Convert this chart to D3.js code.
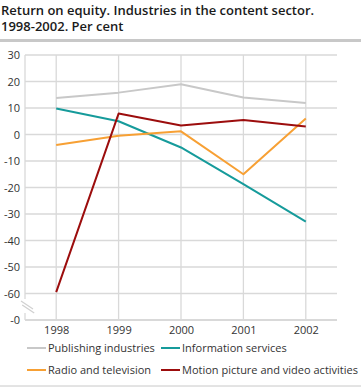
<!DOCTYPE html>
<html><head><meta charset="utf-8">
<script src="https://cdn.jsdelivr.net/npm/d3@7"></script>
<style>body{margin:0;background:#fff;} svg{display:block;font-family:"Open Sans",sans-serif;}</style>
</head><body><svg id="c" width="361" height="387"></svg>
<script>
const years = ["1998","1999","2000","2001","2002"];
const publishing = [13.8, 15.8, 19.0, 14.0, 11.9];
const information = [9.8, 5.0, -4.9, -18.7, -32.9];
const radio = [-4.0, -0.5, 1.2, -15.0, 6.0];
const motion = [-59.5, 7.9, 3.4, 5.5, 3.0];
const yTicks = [30, 20, 10, 0, -10, -20, -30, -40, -50, -60, -70];
const yTickLabels = ["30","20","10","0","-10","-20","-30","-40","-50","-60","-0"];
const seriesNames = ["Publishing industries","Information services","Radio and television","Motion picture and video activities"];
const colors = ["#c8c8c8","#169b9b","#f7a034","#9c0d0d"];
const seriesData = [publishing, information, radio, motion];

const svg = d3.select("#c");
const L = 25, R = 337, T = 55, B = 320;
const x = d3.scalePoint().domain(years).range([L, R]).padding(0.5);
const y = d3.scaleLinear().domain([-70, 30]).range([B, T]);

// title
svg.append("text").attr("x",1).attr("y",14.5).attr("font-size",13).attr("font-weight",600).attr("fill","#1a1a1a").text("Return on equity. Industries in the content sector.");
svg.append("text").attr("x",1).attr("y",31).attr("font-size",13).attr("font-weight",600).attr("fill","#1a1a1a").text("1998-2002. Per cent");
svg.append("line").attr("x1",0).attr("x2",361).attr("y1",40.5).attr("y2",40.5).attr("stroke","#c8c8c8").attr("stroke-width",3);
svg.append("line").attr("x1",0).attr("x2",361).attr("y1",386).attr("y2",386).attr("stroke","#c8c8c8").attr("stroke-width",1);

// grid
const g = svg.append("g");
g.selectAll(".hg").data(yTicks).join("line")
  .attr("x1",L).attr("x2",R).attr("y1",d=>y(d)).attr("y2",d=>y(d))
  .attr("stroke","#d9d9d9").attr("stroke-width",d=>d===-70?2:1.3);
g.selectAll(".vg").data(years).join("line")
  .attr("x1",d=>x(d)).attr("x2",d=>x(d)).attr("y1",T).attr("y2",B)
  .attr("stroke","#d9d9d9").attr("stroke-width",1.3);
g.append("line").attr("x1",L).attr("x2",L).attr("y1",T).attr("y2",B).attr("stroke","#d9d9d9").attr("stroke-width",1.3);

// y axis labels
const yAxis = d3.axisLeft(y).tickValues(yTicks).tickFormat((d,i)=>yTickLabels[i]).tickSize(0).tickPadding(5);
const ya = svg.append("g").attr("transform",`translate(${L},0)`).call(yAxis);
ya.select(".domain").remove();
ya.selectAll("text").attr("font-size",11).attr("fill","#333").attr("font-family","Open Sans, sans-serif");

// x axis labels
const xAxis = d3.axisBottom(x).tickSize(0).tickPadding(6);
const xa = svg.append("g").attr("transform",`translate(0,${B})`).call(xAxis);
xa.select(".domain").remove();
xa.selectAll("text").attr("font-size",11).attr("fill","#333").attr("font-family","Open Sans, sans-serif");

// axis break
svg.append("rect").attr("x",20).attr("y",299).attr("width",14).attr("height",14).attr("fill","#fff");
[0,4].forEach(o=>{
  svg.append("line").attr("x1",21+o*0.3).attr("y1",301+o).attr("x2",33+o*0.3).attr("y2",309+o).attr("stroke","#d0d0d0").attr("stroke-width",1.2);
});

// lines
const line = d3.line().x((d,i)=>x(years[i])).y(d=>y(d));
seriesData.forEach((s,k)=>{
  svg.append("path").datum(s).attr("d",line).attr("fill","none")
    .attr("stroke",colors[k]).attr("stroke-width",2).attr("stroke-linejoin","round");
});

// legend
const legPos = [[27,348],[161,348],[27,370],[161,370]];
seriesNames.forEach((n,k)=>{
  const [lx,ly] = legPos[k];
  svg.append("line").attr("x1",lx).attr("x2",lx+19).attr("y1",ly).attr("y2",ly).attr("stroke",colors[k]).attr("stroke-width",2);
  svg.append("text").attr("x",lx+21).attr("y",ly+4).attr("font-size",11).attr("fill","#333").text(n);
});
</script></body></html>
